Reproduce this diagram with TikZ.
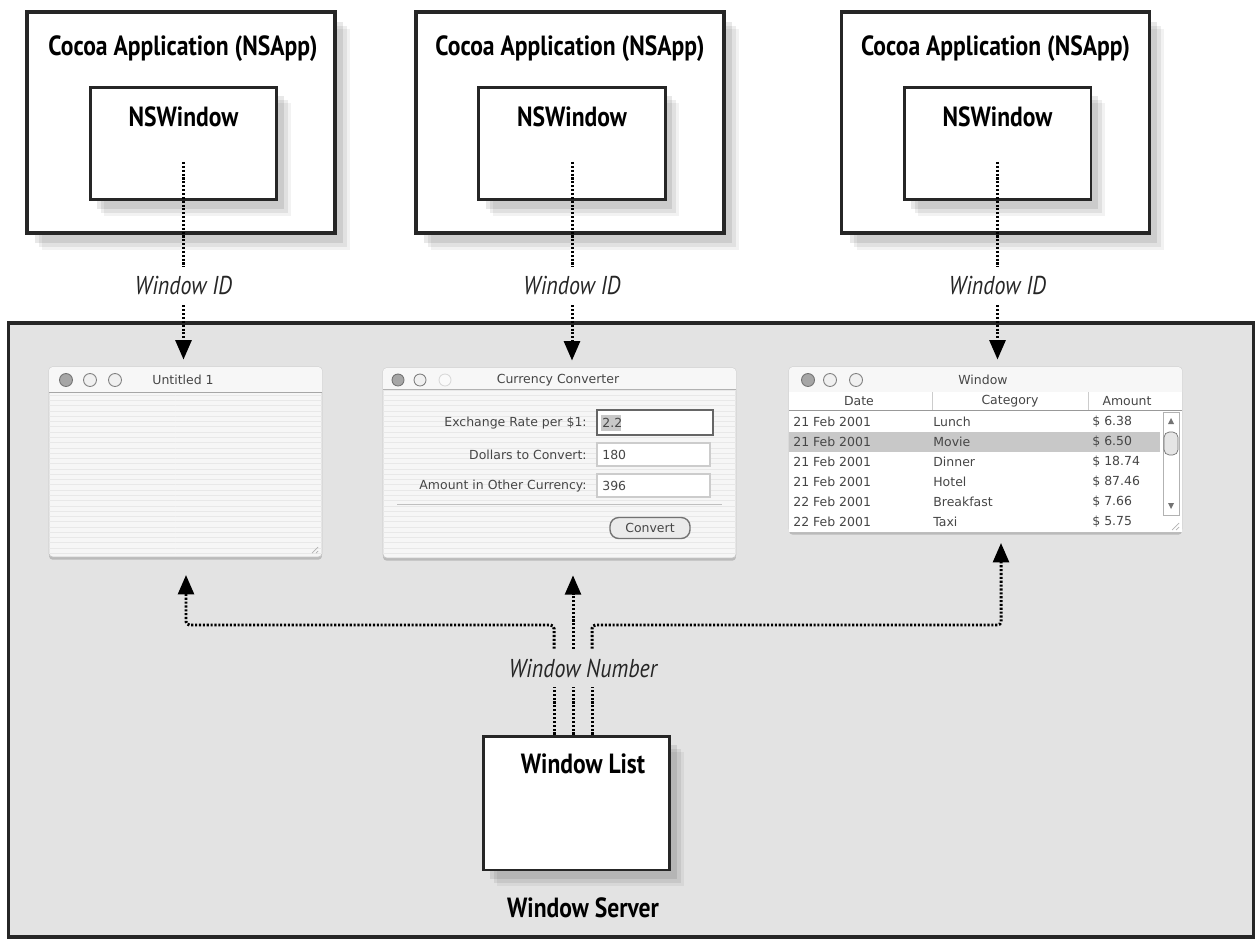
\documentclass[tikz,border=0pt]{standalone}
\usepackage{fontspec}
\setmainfont{PT Sans}
\newfontfamily\labelfont[FakeStretch=0.85]{PT Sans}
\newfontfamily\uifont{DejaVu Sans}
\usepackage{tikz}
\usetikzlibrary{calc,arrows.meta,positioning,shadows,patterns}
\definecolor{srvGray}{RGB}{227,227,227}
\definecolor{boxLine}{RGB}{38,38,38}
\definecolor{uiBack}{RGB}{246,246,246}
\definecolor{uiStripe}{RGB}{232,232,232}
\definecolor{uiText}{RGB}{70,70,70}
\definecolor{uiHigh}{RGB}{200,200,200}

\tikzset{
    appbox/.style={draw=boxLine, line width=2pt, fill=white, minimum width=6.16cm, minimum height=4.42cm,
        drop shadow={shadow xshift=0.3cm, shadow yshift=-0.34cm, fill=black, opacity=0.05},
        drop shadow={shadow xshift=0.24cm, shadow yshift=-0.28cm, fill=black, opacity=0.07},
        drop shadow={shadow xshift=0.16cm, shadow yshift=-0.2cm, fill=black, opacity=0.09}},
    nswin/.style={draw=boxLine, line width=1.7pt, fill=white, minimum width=3.74cm, minimum height=2.26cm,
        drop shadow={shadow xshift=0.28cm, shadow yshift=-0.32cm, fill=black, opacity=0.05},
        drop shadow={shadow xshift=0.22cm, shadow yshift=-0.26cm, fill=black, opacity=0.07},
        drop shadow={shadow xshift=0.14cm, shadow yshift=-0.18cm, fill=black, opacity=0.09}},
    serverbox/.style={draw=boxLine, line width=1.8pt, fill=srvGray, minimum width=24.92cm, minimum height=12.28cm},
    boldLabel/.style={font=\labelfont\bfseries\fontsize{15.8}{18}\selectfont, inner sep=0pt},
    idLabel/.style={font=\labelfont\itshape\fontsize{14.7}{17}\selectfont, text=black!85, inner xsep=2pt, inner ysep=5.5pt},
    idline/.style={line width=1.7pt, dash pattern=on 1.2pt off 1pt, black},
    idarrow/.style={idline, -{Triangle[length=11pt,width=9pt]}},
    uiwin/.style={draw=black!22, line width=0.5pt, fill=uiBack, rounded corners=2pt,
        postaction={pattern=horizontal lines, pattern color=uiStripe},
        drop shadow={shadow xshift=0pt, shadow yshift=-1.5pt, fill=black, opacity=0.18}},
    uitext/.style={font=\uifont\fontsize{7.1}{8}\selectfont, text=uiText, inner sep=0pt},
    uifield/.style={draw=black!20, line width=0.6pt, fill=white},
    litebtn/.style={draw=black!50, line width=0.5pt, fill=black!6},
    darkbtn/.style={draw=black!55, line width=0.5pt, fill=black!35},
}

\begin{document}
\begin{tikzpicture}[x=0.02cm,y=-0.02cm]
    % frame
    \useasboundingbox (0,0) rectangle (1257,939);

    % window server area
    \node[serverbox] (server) at (631,630) {};
    \node[boldLabel] (srvname) at (583,908) {Window Server};

    % applications
    \node[appbox] (app1) at (181,122.5) {};
    \node[appbox] (app2) at (570,122.5) {};
    \node[appbox] (app3) at (995.5,122.5) {};
    \node[boldLabel] (apptitle1) at (183,49) {Cocoa Application (NSApp)};
    \node[boldLabel] (apptitle2) at (570,49) {Cocoa Application (NSApp)};
    \node[boldLabel] (apptitle3) at (995.5,49) {Cocoa Application (NSApp)};

    \node[nswin] (nsw1) at (183.5,143.5) {};
    \node[nswin] (nsw2) at (572,143.5) {};
    \node[nswin] (nsw3) at (997.5,143.5) {};
    \node[boldLabel] (nstitle1) at (183.5,117) {NSWindow};
    \node[boldLabel] (nstitle2) at (572,117) {NSWindow};
    \node[boldLabel] (nstitle3) at (997.5,117) {NSWindow};

    % on-screen windows
    \node[uiwin, minimum width=5.46cm, minimum height=3.8cm] (w1) at (185.5,462) {};
    \node[uiwin, minimum width=7.06cm, minimum height=3.8cm] (w2) at (559.5,463) {};
    \node[uiwin, minimum width=7.86cm, minimum height=3.3cm] (w3) at (985.5,449.5) {};

    % title bars
    \fill[white!97!black, rounded corners=2pt] (49,392) -- (49,367) -- (322,367) -- (322,392);
    \draw[black!35] (49,392) -- (322,392);
    \fill[white!97!black, rounded corners=2pt] (383,389) -- (383,368) -- (736,368) -- (736,389);
    \draw[black!30] (383,389) -- (736,389);
    \fill[white!97!black, rounded corners=2pt] (789,392) -- (789,367) -- (1182,367) -- (1182,392);
    \draw[black!35] (789,392) -- (1182,392);

    \filldraw[darkbtn] (66,380) circle (0.13cm);
    \filldraw[litebtn] (90,380) circle (0.13cm);
    \filldraw[litebtn] (115,380) circle (0.13cm);
    \filldraw[darkbtn] (398,380) circle (0.12cm);
    \filldraw[litebtn] (420,380) circle (0.12cm);
    \filldraw[litebtn, draw=black!15, fill=black!2] (445,380) circle (0.12cm);
    \filldraw[darkbtn] (808,380) circle (0.13cm);
    \filldraw[litebtn] (830,380) circle (0.13cm);
    \filldraw[litebtn] (856,380) circle (0.13cm);

    \node[uitext] (wtitle1) at (183,380) {Untitled 1};
    \node[uitext] (wtitle2) at (558,380) {Currency Converter};
    \node[uitext] (wtitle3) at (983,380) {Window};

    % resize grip
    \draw[black!30] (312,553) -- (318,547) (316,553) -- (318,551);

    % currency converter
    \node[uitext, anchor=east] (lrate) at (587,423) {Exchange Rate per \$1:};
    \node[uitext, anchor=east] (ldollar) at (587,455) {Dollars to Convert:};
    \node[uitext, anchor=east] (lamount) at (587,486) {Amount in Other Currency:};
    \draw[uifield, draw=black!60, line width=1.1pt] (597,410) rectangle (713,435);
    \fill[uiHigh] (601,415) rectangle (621,431);
    \draw[uifield] (597,443) rectangle (710,466);
    \draw[uifield] (597,474) rectangle (710,497);
    \node[uitext, anchor=west] (vrate) at (602,423) {2.2};
    \node[uitext, anchor=west] (vdollar) at (602,455) {180};
    \node[uitext, anchor=west] (vamount) at (602,486) {396};
    \draw[black!25] (397,504) -- (722,504);
    \node[uitext, draw=black!55, line width=0.8pt, fill=black!8, rounded corners=5pt,
        minimum width=1.6cm, minimum height=0.42cm] (convert) at (650,528) {Convert};

    % table window
    \fill[white] (789,392) rectangle (1182,532);
    \draw[black!20] (932,392) -- (932,410) (1088,392) -- (1088,410);
    \draw[black!40] (789,410) -- (1182,410);
    \fill[uiHigh] (789,432) rectangle (1160,452);
    \node[uitext] (hdate) at (859,401) {Date};
    \node[uitext] (hcat) at (1010,401) {Category};
    \node[uitext] (hamt) at (1127,401) {Amount};

    \node[uitext, anchor=west] (d1) at (793,422) {21 Feb 2001};
    \node[uitext, anchor=west] (d2) at (793,442) {21 Feb 2001};
    \node[uitext, anchor=west] (d3) at (793,462) {21 Feb 2001};
    \node[uitext, anchor=west] (d4) at (793,482) {21 Feb 2001};
    \node[uitext, anchor=west] (d5) at (793,502) {22 Feb 2001};
    \node[uitext, anchor=west] (d6) at (793,522) {22 Feb 2001};
    \node[uitext, anchor=west] (c1) at (933,422) {Lunch};
    \node[uitext, anchor=west] (c2) at (933,442) {Movie};
    \node[uitext, anchor=west] (c3) at (933,462) {Dinner};
    \node[uitext, anchor=west] (c4) at (933,482) {Hotel};
    \node[uitext, anchor=west] (c5) at (933,502) {Breakfast};
    \node[uitext, anchor=west] (c6) at (933,522) {Taxi};
    \node[uitext, anchor=west] (a1) at (1092,422) {\$ 6.38};
    \node[uitext, anchor=west] (a2) at (1092,442) {\$ 6.50};
    \node[uitext, anchor=west] (a3) at (1092,462) {\$ 18.74};
    \node[uitext, anchor=west] (a4) at (1092,482) {\$ 87.46};
    \node[uitext, anchor=west] (a5) at (1092,502) {\$ 7.66};
    \node[uitext, anchor=west] (a6) at (1092,522) {\$ 5.75};

    % scroller
    \draw[black!30, fill=white] (1163,412) rectangle (1179,515);
    \draw[black!55, fill=black!10, rounded corners=3pt] (1164,432) rectangle (1178,455);
    \fill[black!55] (1168,424) -- (1174,424) -- (1171,418) -- cycle;
    \fill[black!55] (1168,503) -- (1174,503) -- (1171,509) -- cycle;
    \draw[black!30] (1172,530) -- (1179,523) (1176,530) -- (1179,527);

    % window list
    \node[nswin, minimum height=2.68cm] (wlist) at (576.5,803) {};
    \node[boldLabel] (wlisttitle) at (583,764) {Window List};

    % window ids
    \coordinate (s1) at (183.5,162);
    \coordinate (s2) at (572,162);
    \coordinate (s3) at (997.5,162);
    \node[idLabel] (id1) at (183.5,286) {Window ID};
    \node[idLabel] (id2) at (572,286) {Window ID};
    \node[idLabel] (id3) at (997.5,286) {Window ID};
    \draw[idline] (s1) -- (id1.north -| s1);
    \draw[idline] (s2) -- (id2.north -| s2);
    \draw[idline] (s3) -- (id3.north -| s3);
    \draw[idarrow, shorten >=4pt] (id1.south -| s1) -- (s1 |- w1.north);
    \draw[idarrow, shorten >=4pt] (id2.south -| s2) -- (s2 |- w2.north);
    \draw[idarrow, shorten >=4pt] (id3.south -| s3) -- (s3 |- w3.north);

    % window numbers
    \node[idLabel] (wnum) at (583,668) {Window Number};
    \coordinate (nl) at (554,0);
    \coordinate (nm) at (573,0);
    \coordinate (nr) at (592,0);
    \coordinate (lt) at (186,625);
    \coordinate (rt) at (1001,625);
    \draw[idline] (wlist.north -| nl) -- (wnum.south -| nl);
    \draw[idline] (wlist.north -| nm) -- (wnum.south -| nm);
    \draw[idline] (wlist.north -| nr) -- (wnum.south -| nr);
    \draw[idarrow, rounded corners=2pt, shorten >=10pt] (wnum.north -| nl) |- (lt) -- (lt |- w1.south);
    \draw[idarrow, shorten >=9.6pt] (wnum.north -| nm) -- (nm |- w2.south);
    \draw[idarrow, rounded corners=2pt, shorten >=6pt] (wnum.north -| nr) |- (rt) -- (rt |- w3.south);
\end{tikzpicture}
\end{document}
